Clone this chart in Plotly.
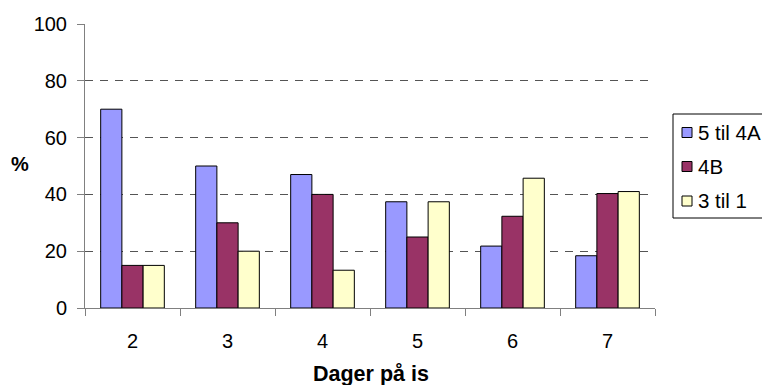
import plotly.graph_objects as go

categories = ["2", "3", "4", "5", "6", "7"]
series_names = ["5 til 4A", "4B", "3 til 1"]
vals_5til4a = [70, 50, 47, 37.4, 21.8, 18.4]
vals_4b = [15, 30, 40, 25, 32.3, 40.3]
vals_3til1 = [15, 20, 13.3, 37.4, 45.7, 41]
colors = ["#9999FF", "#993366", "#FFFFCC"]
y_ticks = [0, 20, 40, 60, 80, 100]

FAM = "Liberation Sans, Arial, sans-serif"
font = dict(family=FAM, size=20, color="black")
font_leg = dict(family=FAM, size=20.5, color="black")
font_title = dict(family=FAM, size=21.5, color="black")

# page offset (browser body margin) compensation
OFF = 8
W, H = 770 - OFF, 385 - OFF
PL, PR, PT, PB = 85, 655, 24, 308  # desired plot-area pixel box in the window
PW, PH = PR - PL, PB - PT


def px(x):
    return (x - PL) / PW


def py(y):
    return (PB - y) / PH


fig = go.Figure()
for i, (name, vals) in enumerate(zip(series_names, [vals_5til4a, vals_4b, vals_3til1])):
    fig.add_trace(go.Bar(
        x=categories, y=vals, name=name,
        marker=dict(color=colors[i], line=dict(color="black", width=1)),
    ))

shapes = []
annotations = []

# manual legend (box, swatches, labels)
shapes.append(dict(type="rect", xref="paper", yref="paper",
                   x0=px(673), x1=px(769), y0=py(114), y1=py(218),
                   line=dict(color="black", width=1), fillcolor="white"))
row_centers = [132.5, 166.5, 201]
for name, c, rc in zip(series_names, colors, row_centers):
    shapes.append(dict(type="rect", xref="paper", yref="paper",
                       x0=px(682), x1=px(692), y0=py(rc - 5), y1=py(rc + 5),
                       line=dict(color="black", width=1), fillcolor=c))
    annotations.append(dict(text=name, x=px(696), y=py(rc), xref="paper", yref="paper",
                            xanchor="left", yanchor="middle", showarrow=False,
                            font=font_leg))

annotations.append(dict(text="<b>%</b>", x=px(20), y=py(164), xref="paper", yref="paper",
                        xanchor="center", yanchor="middle", showarrow=False, font=font))
annotations.append(dict(text="<b>Dager på is</b>", x=px(371), y=py(374), xref="paper",
                        yref="paper", xanchor="center", yanchor="middle", showarrow=False,
                        font=font_title))

fig.update_layout(
    width=W, height=H,
    margin=dict(l=PL - OFF, r=770 - PR, t=PT - OFF, b=385 - PB, pad=0,
                autoexpand=False),
    paper_bgcolor="white", plot_bgcolor="white",
    font=font,
    barmode="group", bargap=0.33, bargroupgap=0,
    showlegend=False,
    xaxis=dict(
        type="category", showline=True, linecolor="#808080", linewidth=1,
        ticks="outside", tickson="boundaries", ticklen=7, tickcolor="#808080",
        showgrid=False, zeroline=False, tickfont=font, ticklabelstandoff=15,
        automargin=False,
    ),
    yaxis=dict(
        range=[0, 100], tickvals=y_ticks, showline=True, linecolor="#808080",
        linewidth=1, ticks="outside", ticklen=7, tickcolor="#808080",
        showgrid=True, gridcolor="#555555", griddash="8px,7px", gridwidth=1,
        zeroline=False, tickfont=font, ticklabelstandoff=6, automargin=False,
    ),
    shapes=shapes,
    annotations=annotations,
)

fig.write_html("out.html")
